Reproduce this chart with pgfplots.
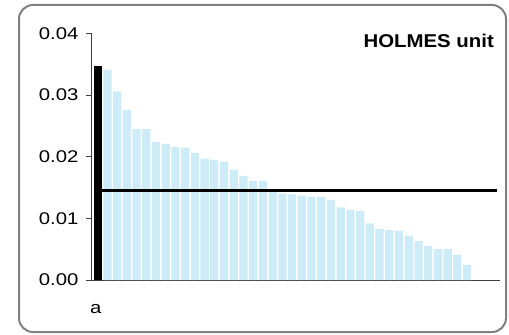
\documentclass[border=0pt]{standalone}
\usepackage{pgfplots}
\pgfplotsset{compat=1.18}
\usepackage{fontspec}
\setmainfont{Liberation Sans}
\newfontfamily\tickfont{Liberation Sans}[FakeStretch=1.2]
\newfontfamily\titlefont{Liberation Sans}[FakeStretch=1.1]
\definecolor{barblue}{RGB}{206,236,248}
\definecolor{framegray}{RGB}{128,128,128}
\definecolor{axgray}{RGB}{64,64,64}
\pgfplotstableread{
x y
1 0.03415
2 0.0306
3 0.0276
4 0.0245
5 0.0245
6 0.0224
7 0.0221
8 0.0216
9 0.0215
10 0.0206
11 0.0197
12 0.0195
13 0.0192
14 0.0179
15 0.0169
16 0.0161
17 0.0161
18 0.0143
19 0.0140
20 0.0139
21 0.0137
22 0.0135
23 0.0135
24 0.0130
25 0.0118
26 0.0114
27 0.0112
28 0.0092
29 0.0083
30 0.0081
31 0.0080
32 0.0072
33 0.0063
34 0.0055
35 0.0050
36 0.0050
37 0.0041
38 0.0024
}\bluedata
\begin{document}
\begin{tikzpicture}[x=1bp,y=1bp]
\path[use as bounding box] (0,0) rectangle (509,334);
\draw[framegray, line width=2bp, rounded corners=14bp] (19,2) rectangle (506,329);
\begin{axis}[
  at={(91bp,54bp)}, anchor=south west,
  scale only axis, width=409bp, height=246.5bp,
  xmin=-0.69, xmax=41.39, ymin=0, ymax=0.04,
  axis x line*=bottom, axis y line*=left,
  axis line style={axgray, line width=1bp, -},
  ytick={0,0.01,0.02,0.03,0.04},
  scaled y ticks=false,
  /pgf/number format/assume math mode=true,
  yticklabel style={font=\tickfont\fontsize{17}{19}\selectfont, xshift=-4bp, /pgf/number format/.cd, fixed, fixed zerofill, precision=2},
  tick align=outside, major tick length=5bp,
  ytick style={axgray, line width=1bp},
  xtick={0}, xticklabels={a}, xtick style={draw=none},
  xticklabel style={font=\tickfont\fontsize{17}{19}\selectfont, anchor=base, yshift=-28bp, xshift=-2bp},
  clip=false,
]
\addplot[ybar, bar width=0.85, bar shift=0pt, fill=barblue, draw=none] table[x=x,y=y] {\bluedata};
\addplot[ybar, bar width=0.82, bar shift=0pt, fill=black, draw=none] coordinates {(0,0.0348)};
\addplot[black, line width=2.5bp, no markers] coordinates {(0.44,0.0145) (41.05,0.0145)};
\end{axis}
\node[anchor=base east, font=\titlefont\bfseries\fontsize{18.6}{20}\selectfont, inner sep=0pt] at (494,286.7) {HOLMES unit};
\end{tikzpicture}
\end{document}
